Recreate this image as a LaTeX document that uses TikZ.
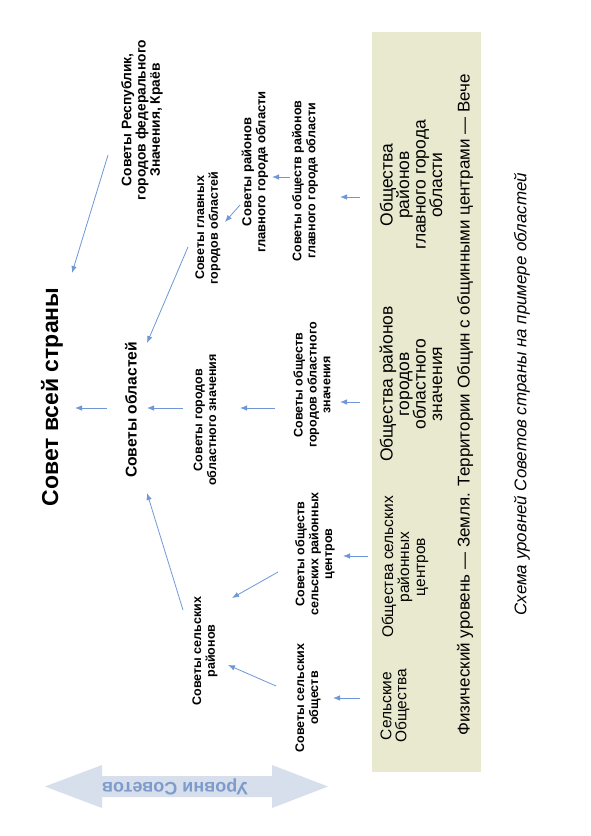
\documentclass[tikz,border=0pt]{standalone}
\usepackage{fontspec}
\setmainfont{Liberation Sans}
\usetikzlibrary{calc,arrows.meta}
\definecolor{arrblue}{HTML}{6F97D8}
\definecolor{boxgreen}{HTML}{E9E9CF}
\definecolor{lvlfill}{HTML}{D7DFEC}
\definecolor{lvltext}{HTML}{7D9BCB}
\begin{document}
\begin{tikzpicture}[x=1pt,y=-1pt,
  lbl/.style={rotate=90,align=center,inner sep=0pt,font=\bfseries\fontsize{12.5}{13.8}\selectfont},
  glbl/.style={rotate=90,align=center,inner sep=0pt,font=\fontsize{17.5}{16.5}\selectfont},
  arr/.style={draw=arrblue,line width=0.8pt,-{Latex[length=7pt,width=5.5pt]}}]
\useasboundingbox (0,0) rectangle (591,836);
\fill[white] (0,0) rectangle (591,836);
% green band
\fill[boxgreen] (372,32) rectangle (481,772);
% levels arrow
\fill[lvlfill] (45,786.5) -- (102,765) -- (102,776) -- (272,776) -- (272,765) -- (328,786.5)
  -- (272,808) -- (272,797) -- (102,797) -- (102,808) -- cycle;
\node[rotate=180,inner sep=0pt,text=lvltext,font=\bfseries\fontsize{18}{20}\selectfont] (lvl) at (175,787) {Уровни Советов};
% nodes
\node[lbl,font=\bfseries\fontsize{23}{26}\selectfont] (strana) at (52,397) {Совет всей страны};
\node[lbl,font=\bfseries\fontsize{15.6}{18}\selectfont] (obl) at (131,410) {Советы областей};
\node[lbl,font=\bfseries\fontsize{13.8}{14.3}\selectfont] (resp) at (142,120) {Советы Республик,\\ городов федерального\\ Значения, Краёв};
\node[lbl] (glav) at (208,228) {Советы главных\\ городов областей};
\node[lbl,font=\bfseries\fontsize{13}{14}\selectfont] (raiglav) at (255,172) {Советы районов\\ главного города области};
\node[lbl] (obshraiglav) at (305,181) {Советы обществ районов\\ главного города области};
\node[lbl] (gor) at (205,420) {Советы городов\\ областного значения};
\node[lbl] (obshgor) at (312,385) {Советы обществ\\ городов областного\\ значения};
\node[lbl] (selrn) at (205,651) {Советы сельских\\ районов};
\node[lbl] (obshselc) at (315,554) {Советы обществ\\ сельских районных\\ центров};
\node[lbl] (selob) at (308,698) {Советы сельских\\ обществ};
\node[glbl] (g1) at (411,185) {Общества\\ районов\\ главного города\\ области};
\node[glbl] (g2) at (411,384) {Общества районов\\ городов\\ областного\\ значения};
\node[glbl,font=\fontsize{15.5}{16}\selectfont] (g3) at (405,567) {Общества сельских\\ районных\\ центров};
\node[glbl,font=\fontsize{15.5}{15}\selectfont] (g4) at (395,706) {Сельские\\ Общества};
\node[rotate=90,inner sep=0pt,font=\fontsize{17}{20}\selectfont] (phys) at (465,405) {Физический уровень — Земля. Территории Общин с общинными центрами — Вече};
\node[rotate=90,inner sep=0pt,font=\itshape\fontsize{16.9}{19}\selectfont] (cap) at (522,394) {Схема уровней Советов страны на примере областей};
% arrows
\draw[arr] ($(obl)+(-24,-2)$) -- ($(strana)+(23,11)$);
\draw[arr] ($(gor)+(-22,-12)$) -- ($(obl)+(16,-2)$);
\draw[arr] ($(obshgor)+(-37,23)$) -- ($(gor)+(35,-12)$);
\draw[arr] ($(g2)+(-51,18)$) -- ($(obshgor)+(28,17)$);
\draw[arr] ($(g1)+(-51,12)$) -- ($(obshraiglav)+(35,16)$);
\draw[arr] ($(obshraiglav)+(-15,-4)$) -- ($(raiglav)+(17,5)$);
\draw[arr] ($(raiglav)+(-15,33)$) -- ($(glav)+(17,-6)$);
\draw[arr] ($(glav)+(-20,19)$) -- ($(obl)+(16,-67)$);
\draw[arr] ($(resp)+(-34,35)$) -- ($(strana)+(20,-124)$);
\draw[arr] ($(selrn)+(-22,-41)$) -- ($(obl)+(16,83)$);
\draw[arr] ($(obshselc)+(-37,18)$) -- ($(selrn)+(27,-53)$);
\draw[arr] ($(selob)+(-32,-12)$) -- ($(selrn)+(23,14)$);
\draw[arr] ($(g3)+(-37,-11)$) -- ($(obshselc)+(28,2)$);
\draw[arr] ($(g4)+(-35,-8)$) -- ($(selob)+(25,0)$);
\end{tikzpicture}
\end{document}
